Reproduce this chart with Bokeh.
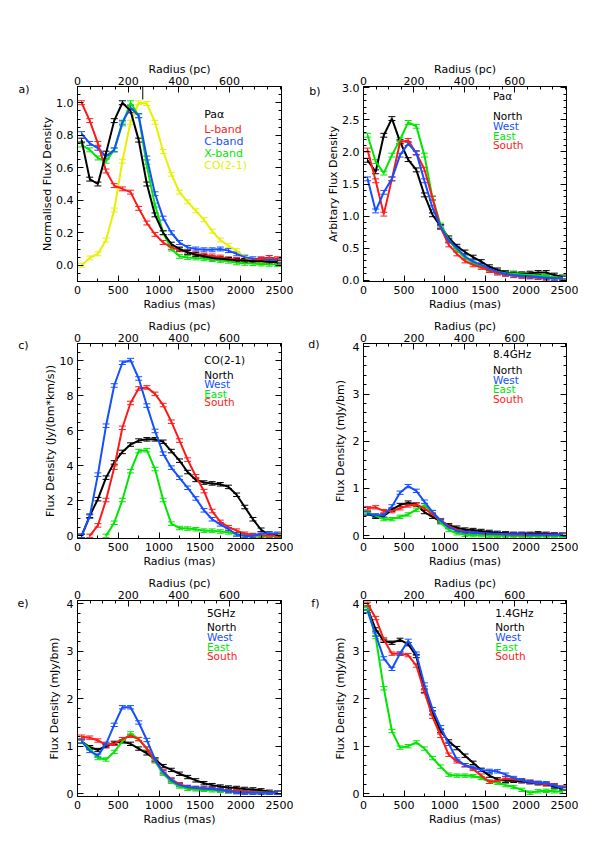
from bokeh.plotting import figure
from bokeh.models import (Range1d, LinearAxis, FixedTicker, SingleIntervalTicker, PrintfTickFormatter,
                          Label, Whisker, TeeHead, ColumnDataSource, CustomJSTickFormatter)
from bokeh.layouts import column, row
from bokeh.embed import file_html
from bokeh.resources import INLINE

# ---------------- data ----------------
RADIUS_MAS = [50, 150, 250, 350, 450, 550, 650, 750, 850, 950, 1050, 1150, 1250,
              1350, 1450, 1550, 1650, 1750, 1850, 1950, 2050, 2150, 2250, 2350, 2450]
PC_TICKS = [0, 200, 400, 600]

# panel a: normalised profiles
A_PAA   = [0.77, 0.53, 0.50, 0.69, 0.89, 1.00, 0.95, 0.77, 0.50, 0.31, 0.20, 0.13, 0.10,
           0.08, 0.065, 0.055, 0.045, 0.04, 0.035, 0.03, 0.03, 0.025, 0.025, 0.02, 0.02]
A_LBAND = [1.00, 0.89, 0.75, 0.58, 0.49, 0.47, 0.45, 0.35, 0.26, 0.19, 0.14, 0.11, 0.095,
           0.08, 0.07, 0.062, 0.057, 0.05, 0.04, 0.035, 0.03, 0.03, 0.04, 0.048, 0.04]
A_CBAND = [0.81, 0.75, 0.72, 0.67, 0.71, 0.88, 0.97, 0.92, 0.66, 0.44, 0.29, 0.20, 0.14,
           0.11, 0.10, 0.095, 0.095, 0.10, 0.09, 0.07, 0.05, 0.04, 0.035, 0.035, 0.03]
A_XBAND = [0.74, 0.71, 0.66, 0.64, 0.71, 0.87, 1.00, 0.92, 0.61, 0.37, 0.20, 0.10, 0.055,
           0.048, 0.045, 0.04, 0.035, 0.03, 0.025, 0.015, 0.012, 0.01, 0.008, 0.006, 0.005]
A_CO    = [0.00, 0.045, 0.07, 0.155, 0.34, 0.64, 0.88, 1.00, 0.995, 0.88, 0.70, 0.56, 0.45,
           0.39, 0.335, 0.28, 0.21, 0.155, 0.12, 0.09, 0.05, 0.025, 0.02, 0.02, 0.02]

# panel b: Pa alpha quadrants
B_NORTH = [1.87, 1.69, 2.26, 2.52, 2.16, 1.88, 1.72, 1.33, 1.02, 0.84, 0.66, 0.53, 0.44,
           0.36, 0.29, 0.21, 0.16, 0.12, 0.11, 0.10, 0.11, 0.12, 0.12, 0.08, 0.05]
B_WEST  = [1.58, 1.08, 1.37, 1.58, 1.95, 2.13, 1.99, 1.55, 1.13, 0.83, 0.62, 0.50, 0.37,
           0.29, 0.24, 0.18, 0.13, 0.10, 0.08, 0.07, 0.06, 0.05, 0.04, 0.03, 0.03]
B_EAST  = [2.26, 1.85, 1.67, 1.95, 2.19, 2.46, 2.40, 1.95, 1.28, 0.86, 0.63, 0.47, 0.35,
           0.27, 0.22, 0.17, 0.13, 0.11, 0.10, 0.09, 0.08, 0.07, 0.06, 0.05, 0.04]
B_SOUTH = [2.03, 1.55, 1.03, 1.58, 2.15, 2.18, 1.98, 1.73, 1.28, 0.82, 0.55, 0.41, 0.30,
           0.24, 0.20, 0.15, 0.11, 0.09, 0.07, 0.06, 0.05, 0.04, 0.03, 0.03, 0.03]

# panel c: CO(2-1) quadrants
C_NORTH = [0.00, 1.15, 2.10, 3.33, 4.20, 4.80, 5.22, 5.45, 5.52, 5.52, 5.38, 4.85, 4.30,
           3.65, 3.20, 3.05, 3.00, 2.95, 2.80, 2.35, 1.65, 0.95, 0.35, 0.05, 0.05]
C_WEST  = [0.00, 1.10, 3.50, 6.30, 8.60, 9.90, 10.05, 9.00, 7.45, 6.00, 4.70, 3.90, 3.32,
           2.75, 2.14, 1.46, 0.95, 0.66, 0.38, 0.08, 0.00, 0.00, 0.12, 0.15, 0.12]
C_EAST  = [None, None, None, 0.00, 0.75, 2.05, 3.70, 4.85, 4.90, 3.82, 2.05, 0.70, 0.45,
           0.42, 0.38, 0.30, 0.30, 0.25, 0.20, 0.10, 0.05, 0.02, 0.00, 0.00, 0.00]
C_SOUTH = [None, 0.00, 0.60, 2.05, 3.90, 6.18, 7.60, 8.43, 8.49, 8.12, 7.48, 6.53, 5.45,
           4.36, 3.41, 2.56, 1.42, 0.80, 0.50, 0.30, 0.12, 0.05, 0.03, 0.02, 0.02]

# panel d: 8.4 GHz quadrants
D_NORTH = [0.47, 0.40, 0.42, 0.55, 0.65, 0.70, 0.66, 0.50, 0.40, 0.30, 0.22, 0.17, 0.13,
           0.12, 0.10, 0.08, 0.06, 0.05, 0.04, 0.04, 0.04, 0.05, 0.04, 0.03, 0.02]
D_WEST  = [0.47, 0.43, 0.43, 0.62, 0.91, 1.05, 0.95, 0.72, 0.50, 0.32, 0.18, 0.10, 0.07,
           0.06, 0.05, 0.04, 0.04, 0.03, 0.03, 0.03, 0.02, 0.02, 0.02, 0.02, 0.02]
D_EAST  = [0.50, 0.42, 0.35, 0.35, 0.40, 0.45, 0.55, 0.64, 0.50, 0.28, 0.12, 0.05, 0.02,
           0.01, 0.01, 0.00, 0.00, 0.00, 0.00, 0.00, 0.00, 0.00, 0.00, 0.00, 0.00]
D_SOUTH = [0.58, 0.60, 0.52, 0.52, 0.58, 0.64, 0.66, 0.58, 0.45, 0.33, 0.20, 0.12, 0.08,
           0.06, 0.05, 0.04, 0.03, 0.03, 0.02, 0.02, 0.02, 0.02, 0.02, 0.02, 0.02]

# panel e: 5 GHz quadrants
E_NORTH = [1.10, 0.98, 0.92, 1.00, 1.07, 1.10, 1.05, 0.95, 0.85, 0.72, 0.58, 0.50, 0.42,
           0.35, 0.28, 0.22, 0.18, 0.15, 0.13, 0.12, 0.10, 0.09, 0.07, 0.04, 0.02]
E_WEST  = [1.10, 0.90, 0.80, 1.05, 1.45, 1.82, 1.82, 1.50, 1.13, 0.72, 0.45, 0.28, 0.18,
           0.14, 0.12, 0.11, 0.10, 0.08, 0.05, 0.03, 0.02, 0.02, 0.02, 0.02, 0.02]
E_EAST  = [1.10, 0.95, 0.75, 0.72, 0.88, 1.10, 1.27, 1.15, 0.95, 0.68, 0.42, 0.25, 0.15,
           0.10, 0.09, 0.08, 0.07, 0.06, 0.05, 0.04, 0.03, 0.03, 0.02, 0.02, 0.02]
E_SOUTH = [1.20, 1.18, 1.12, 1.03, 1.05, 1.15, 1.22, 1.15, 0.95, 0.70, 0.47, 0.30, 0.20,
           0.14, 0.12, 0.11, 0.10, 0.08, 0.06, 0.05, 0.04, 0.03, 0.03, 0.02, 0.02]

# panel f: 1.4 GHz quadrants
F_NORTH = [3.90, 3.46, 3.22, 3.18, 3.24, 3.15, 2.90, 2.17, 1.71, 1.32, 1.10, 0.96, 0.80,
           0.65, 0.50, 0.38, 0.30, 0.27, 0.27, 0.26, 0.24, 0.22, 0.20, 0.15, 0.10]
F_WEST  = [3.85, 3.35, 2.85, 2.63, 2.95, 3.22, 2.95, 2.30, 1.78, 1.40, 1.05, 0.72, 0.60,
           0.55, 0.50, 0.48, 0.47, 0.40, 0.33, 0.28, 0.25, 0.23, 0.22, 0.17, 0.12]
F_EAST  = [3.90, 3.30, 2.22, 1.32, 0.97, 1.00, 1.08, 0.95, 0.75, 0.57, 0.40, 0.38, 0.38,
           0.37, 0.33, 0.25, 0.23, 0.18, 0.14, 0.08, 0.02, 0.05, 0.06, 0.05, 0.04]
F_SOUTH = [4.00, 3.70, 3.25, 2.95, 2.95, 2.92, 2.70, 2.15, 1.62, 1.22, 0.82, 0.68, 0.60,
           0.52, 0.38, 0.25, 0.27, 0.32, 0.30, 0.28, 0.25, 0.22, 0.20, 0.18, 0.13]

# ---------------- styling ----------------
FONT = "DejaVu Sans"
BLACK, RED, BLUE, GREEN, YELLOW = "#000000", "#ff1a1a", "#1450ff", "#00e600", "#e6f000"
QUAD_NAMES = ["North", "West", "East", "South"]
QUAD_COLORS = [BLACK, BLUE, GREEN, RED]

FRAME_H = 196


def style_axis(ax, labels=True):
    ax.major_tick_in = 6
    ax.major_tick_out = 0
    ax.minor_tick_in = 3
    ax.minor_tick_out = 0
    ax.axis_line_color = "black"
    ax.major_tick_line_color = "black"
    ax.minor_tick_line_color = "black"
    ax.major_label_text_font = FONT
    ax.major_label_text_font_size = "11px"
    ax.major_label_text_color = "black"
    ax.axis_label_text_font = FONT
    ax.axis_label_text_font_size = "11px"
    ax.axis_label_text_font_style = "normal"
    ax.axis_label_text_color = "black"
    ax.major_label_standoff = 4
    ax.axis_label_standoff = 3
    if not labels:
        ax.formatter = CustomJSTickFormatter(code="return ''")
        ax.major_label_standoff = 0


def make_panel(letter, letter_dy, letter_standoff, width, left_border, top_border, bottom_border,
               yrange, yint, yminor, yfmt, ylabel, ylabel_standoff, series, err, title, items,
               text_x, offsets, legend_fs, marker=None):
    p = figure(width=width, height=top_border + FRAME_H + bottom_border,
               output_backend="svg", toolbar_location=None,
               x_range=Range1d(0, 2500), y_range=Range1d(*yrange))
    p.min_border_left = left_border
    p.min_border_right = 12
    p.min_border_top = top_border
    p.min_border_bottom = bottom_border
    p.xgrid.visible = False
    p.ygrid.visible = False
    p.outline_line_color = "black"
    p.background_fill_color = "white"
    p.border_fill_color = "white"

    p.xaxis.ticker = SingleIntervalTicker(interval=500, num_minor_ticks=2)
    p.yaxis.ticker = SingleIntervalTicker(interval=yint, num_minor_ticks=yminor)
    p.xaxis.axis_label = "Radius (mas)"
    p.yaxis.axis_label = ylabel
    style_axis(p.xaxis[0])
    style_axis(p.yaxis[0])
    p.xaxis[0].axis_label_standoff = 1
    p.yaxis[0].axis_label_standoff = ylabel_standoff
    if yfmt:
        p.yaxis[0].formatter = PrintfTickFormatter(format=yfmt)

    # panel letter as a one-tick axis outside the main y axis
    span = yrange[1] - yrange[0]
    y_letter = yrange[1] - letter_dy * span / FRAME_H
    lax = LinearAxis(ticker=FixedTicker(ticks=[y_letter], minor_ticks=[]),
                     formatter=CustomJSTickFormatter(code="return '%s'" % letter))
    style_axis(lax)
    lax.axis_line_color = None
    lax.major_tick_line_color = None
    lax.minor_tick_line_color = None
    lax.major_label_standoff = letter_standoff
    p.add_layout(lax, "left")

    right = LinearAxis(ticker=SingleIntervalTicker(interval=yint, num_minor_ticks=yminor))
    style_axis(right, labels=False)
    p.add_layout(right, "right")

    p.extra_x_ranges = {"pc": Range1d(0, 805)}
    pc_minor = [50, 100, 150, 250, 300, 350, 450, 500, 550, 650, 700, 750, 800]
    top = LinearAxis(x_range_name="pc", axis_label="Radius (pc)",
                     ticker=FixedTicker(ticks=PC_TICKS, minor_ticks=pc_minor))
    style_axis(top)
    top.major_label_standoff = 2
    top.axis_label_standoff = -2
    p.add_layout(top, "above")

    for ys, col in series:
        xs = [x for x, y in zip(RADIUS_MAS, ys) if y is not None]
        yv = [y for y in ys if y is not None]
        src = ColumnDataSource(dict(x=xs, y=yv,
                                    lo=[v - err for v in yv], hi=[v + err for v in yv]))
        p.line("x", "y", source=src, line_color=col, line_width=2)
        p.add_layout(Whisker(base="x", lower="lo", upper="hi", source=src,
                             line_color=col, line_width=1,
                             lower_head=TeeHead(size=7, line_color=col, line_width=1),
                             upper_head=TeeHead(size=7, line_color=col, line_width=1)))

    if marker is not None:
        p.segment(x0=[marker], y0=[yrange[1]], x1=[marker], y1=[yrange[1] - 0.08],
                  line_color="black", line_width=1)

    texts = [(title, BLACK)] + items
    for (txt, col), off in zip(texts, offsets):
        p.add_layout(Label(x=text_x, y=yrange[1], y_offset=-off, text=txt,
                           text_color=col, text_font=FONT, text_font_size=legend_fs,
                           text_baseline="middle", text_align="left"))
    return p


quad_items = list(zip(QUAD_NAMES, QUAD_COLORS))

ROW_TB = [(86, 31), (30, 31), (30, 34)]   # top / bottom borders per row
LW, RW = 293, 285                          # left / right column figure widths

pa = make_panel("a)", 3.5, 9, LW, 77, *ROW_TB[0], (-0.1, 1.1), 0.2, 4, "%.1f",
                "Normalised Flux Density", -1,
                [(A_CO, YELLOW), (A_XBAND, GREEN), (A_CBAND, BLUE), (A_LBAND, RED), (A_PAA, BLACK)],
                0.012, "Paα",
                [("L-band", RED), ("C-band", BLUE), ("X-band", GREEN), ("CO(2-1)", YELLOW)],
                1553, [27.5, 42.8, 54.8, 66.8, 79.0], "11px", marker=800)
pb = make_panel("b)", 5.5, 4, RW, 70, *ROW_TB[0], (-0.02, 3.02), 0.5, 5, "%.1f",
                "Arbitary Flux Density", -1,
                [(B_NORTH, BLACK), (B_EAST, GREEN), (B_SOUTH, RED), (B_WEST, BLUE)],
                0.03, "Paα", quad_items, 1594, [9, 29, 39, 49, 58.5], "10.5px")
pc = make_panel("c)", 2, 12, LW, 77, *ROW_TB[1], (-0.15, 11.0), 2, 4, None,
                "Flux Density (Jy/(bm*km/s))", 0,
                [(C_NORTH, BLACK), (C_EAST, GREEN), (C_SOUTH, RED), (C_WEST, BLUE)],
                0.1, "CO(2-1)", quad_items, 1553, [16, 31.7, 40.7, 50, 58.5], "10.5px")
pd_ = make_panel("d)", 1, 11, RW, 70, *ROW_TB[1], (-0.06, 4.07), 1, 5, None,
                 "Flux Density (mJy/bm)", 3,
                 [(D_NORTH, BLACK), (D_EAST, GREEN), (D_SOUTH, RED), (D_WEST, BLUE)],
                 0.035, "8.4GHz", quad_items, 1594, [10.3, 26, 36, 45.5, 55.3], "10.5px")
pe = make_panel("e)", 3, 16, LW, 77, *ROW_TB[2], (-0.06, 4.07), 1, 5, None,
                "Flux Density (mJy/bm)", 3,
                [(E_NORTH, BLACK), (E_EAST, GREEN), (E_SOUTH, RED), (E_WEST, BLUE)],
                0.035, "5GHz", quad_items, 1586, [12.2, 26.2, 36.2, 46.2, 55.5], "10.5px")
pf = make_panel("f)", 3, 11, RW, 70, *ROW_TB[2], (-0.06, 4.07), 1, 5, None,
                "Flux Density (mJy/bm)", 3,
                [(F_NORTH, BLACK), (F_EAST, GREEN), (F_SOUTH, RED), (F_WEST, BLUE)],
                0.035, "1.4GHz", quad_items, 1622, [12.2, 26.2, 36.2, 46.2, 55.5], "10.5px")

layout = column(row(pa, pb), row(pc, pd_), row(pe, pf))
open("out.html", "w").write(file_html(layout, INLINE))
